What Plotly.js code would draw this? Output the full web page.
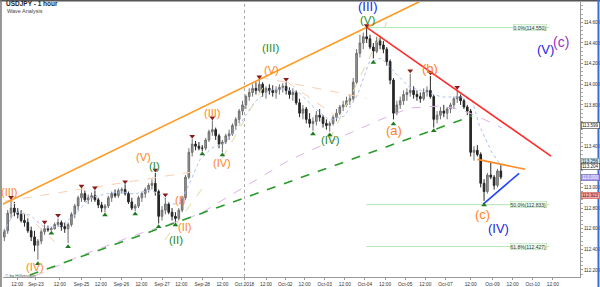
<!DOCTYPE html>
<html><head><meta charset="utf-8">
<script src="https://cdn.plot.ly/plotly-3.0.1.min.js"></script>
<style>html,body{margin:0;padding:0;background:#fff}#chart{width:600px;height:287px}</style>
</head><body><div id="chart"></div>
<script>
// hourly-time index (hours from Sep-25 00:00, weekend-compressed), 2-hour candles
const candleT = [-46,-44,-42,-40,-38,-36,-34,-32,-30,-28,-26,-24,-22,-20,-18,-16,-14,-12,-10,-8,-6,-4,-2,0,2,4,6,8,10,12,14,16,18,20,22,24,26,28,30,32,34,36,38,40,42,44,46,48,50,52,54,56,58,60,62,64,66,68,70,72,74,76,78,80,82,84,86,88,90,92,94,96,98,100,102,104,106,108,110,112,114,116,118,120,122,124,126,128,130,132,134,136,138,140,142,144,146,148,150,152,154,156,158,160,162,164,166,168,170,172,174,176,178,180,182,184,186,188,190,192,194,196,198,200,202,204,206,208,210,212,214,216,218,220,222,224,226,228,230,232,234,236,238,240,242,244,246,248,250];
const openP = [112.52,112.58,112.75,112.80,112.76,112.74,112.68,112.66,112.58,112.52,112.44,112.48,112.57,112.60,112.59,112.60,112.64,112.66,112.62,112.60,112.64,112.74,112.82,112.90,112.94,112.88,112.90,112.92,112.88,112.83,112.80,112.82,112.90,112.94,112.92,112.97,112.98,112.94,112.86,112.80,112.82,112.90,112.94,112.98,113.02,113.04,112.96,112.72,112.78,112.84,112.76,112.72,112.70,112.78,112.90,113.10,113.34,113.42,113.40,113.38,113.38,113.46,113.54,113.56,113.50,113.42,113.44,113.50,113.52,113.60,113.66,113.74,113.80,113.88,113.92,113.96,113.94,114.00,113.92,113.96,113.94,113.92,113.95,113.97,113.98,113.94,113.90,113.92,113.82,113.72,113.76,113.66,113.62,113.64,113.70,113.68,113.62,113.60,113.62,113.68,113.72,113.78,113.80,113.84,113.86,114.02,114.30,114.40,114.46,114.44,114.36,114.32,114.42,114.38,114.34,114.22,114.04,113.72,113.80,113.84,113.90,113.92,113.94,113.90,113.88,113.86,113.92,113.94,113.88,113.66,113.70,113.74,113.72,113.76,113.80,113.86,113.88,113.84,113.78,113.74,113.34,113.36,113.32,113.04,112.96,113.12,113.10,113.02,113.16];
const highP = [112.60,112.78,112.88,112.86,112.80,112.78,112.74,112.70,112.62,112.58,112.50,112.60,112.64,112.63,112.62,112.66,112.70,112.68,112.66,112.66,112.76,112.84,112.92,112.99,112.97,112.93,112.95,112.97,112.90,112.86,112.84,112.92,112.96,112.98,112.99,113.00,113.03,112.96,112.90,112.84,112.92,112.96,113.00,113.04,113.08,113.14,112.98,112.82,112.90,112.86,112.80,112.76,112.80,112.92,113.12,113.38,113.47,113.45,113.44,113.41,113.48,113.56,113.65,113.58,113.52,113.46,113.52,113.56,113.62,113.68,113.76,113.84,113.90,113.96,114.00,114.02,114.05,114.02,113.98,114.00,113.99,113.98,114.00,114.01,114.02,113.97,113.96,113.94,113.86,113.80,113.78,113.72,113.68,113.74,113.76,113.70,113.66,113.64,113.70,113.76,113.80,113.84,113.88,113.90,114.06,114.34,114.48,114.50,114.55,114.48,114.40,114.46,114.46,114.42,114.36,114.24,114.06,113.84,113.88,113.94,113.96,114.10,113.98,113.94,113.92,113.96,113.98,114.08,113.90,113.74,113.78,113.80,113.78,113.82,113.88,113.94,113.90,113.86,113.80,113.76,113.40,113.41,113.34,113.08,113.14,113.25,113.12,113.18,113.22];
const lowP = [112.48,112.55,112.70,112.72,112.70,112.66,112.62,112.56,112.48,112.38,112.30,112.45,112.54,112.57,112.58,112.59,112.62,112.58,112.56,112.46,112.62,112.70,112.78,112.86,112.86,112.84,112.86,112.86,112.80,112.76,112.76,112.80,112.86,112.90,112.90,112.94,112.92,112.84,112.78,112.77,112.80,112.86,112.90,112.95,112.98,112.92,112.65,112.68,112.74,112.74,112.68,112.66,112.68,112.76,112.88,113.08,113.30,113.36,113.36,113.35,113.36,113.44,113.50,113.46,113.38,113.34,113.42,113.46,113.50,113.56,113.62,113.70,113.76,113.84,113.88,113.90,113.92,113.88,113.86,113.90,113.88,113.86,113.90,113.92,113.90,113.86,113.84,113.80,113.68,113.66,113.62,113.58,113.55,113.60,113.64,113.58,113.56,113.54,113.60,113.64,113.70,113.74,113.78,113.80,113.84,114.00,114.26,114.34,114.40,114.34,114.25,114.30,114.34,114.30,114.18,114.00,113.66,113.70,113.76,113.80,113.84,113.88,113.86,113.84,113.82,113.84,113.88,113.86,113.58,113.62,113.66,113.68,113.66,113.72,113.76,113.82,113.80,113.76,113.70,113.30,113.26,113.30,113.00,112.87,112.94,113.08,112.98,113.00,113.08];
const closeP = [112.58,112.75,112.80,112.76,112.74,112.68,112.66,112.58,112.52,112.44,112.48,112.57,112.60,112.59,112.60,112.64,112.66,112.62,112.60,112.64,112.74,112.82,112.90,112.94,112.88,112.90,112.92,112.88,112.83,112.80,112.82,112.90,112.94,112.92,112.97,112.98,112.94,112.86,112.80,112.82,112.90,112.94,112.98,113.02,113.04,112.96,112.72,112.78,112.84,112.76,112.72,112.70,112.78,112.90,113.10,113.34,113.42,113.40,113.38,113.38,113.46,113.54,113.56,113.50,113.42,113.44,113.50,113.52,113.60,113.66,113.74,113.80,113.88,113.92,113.96,113.94,114.00,113.92,113.96,113.94,113.92,113.95,113.97,113.98,113.94,113.90,113.92,113.82,113.72,113.76,113.66,113.62,113.64,113.70,113.68,113.62,113.60,113.62,113.68,113.72,113.78,113.80,113.84,113.86,114.02,114.30,114.40,114.46,114.44,114.36,114.32,114.42,114.38,114.34,114.22,114.04,113.72,113.80,113.84,113.90,113.92,113.94,113.90,113.88,113.86,113.92,113.94,113.88,113.66,113.70,113.74,113.72,113.76,113.80,113.86,113.88,113.84,113.78,113.74,113.34,113.36,113.32,113.04,112.96,113.12,113.10,113.02,113.16,113.10];

// fractal markers
const topT = [-42,-22,-14,0,8,26,44,50,66,78,106,122,170,196,208,224];
const topP = [112.905,112.666,112.73,113.014,112.998,113.056,113.169,112.93,113.497,113.676,114.073,114.048,114.57,114.131,114.112,113.97];
const botT = [-26,-18,-8,14,32,46,56,72,84,138,148,174,186,210,240];
const botP = [112.26,112.555,112.426,112.733,112.742,112.62,112.636,113.324,113.314,113.518,113.508,114.21,113.615,113.55,112.83];

// moving averages
const fastMaT = [-46.8,-39.7,-30.8,-21.8,-12.9,-4,4.9,13.9,22.8,31.7,40.7,46.6,52.6,58.5,64.5,70.4,77.6,85.3,94.2,103.2,112.1,121,129.9,138.9,147.8,156.7,164.5,171.6,178.8,185.3,195.4,215.1,227,232.9,237.1,241.3,244.8,250.8];
const fastMaP = [112.567,112.762,112.733,112.607,112.626,112.733,112.898,112.936,112.956,112.936,112.975,112.936,112.84,112.84,113.043,113.266,113.382,113.43,113.605,113.828,113.944,113.954,113.915,113.77,113.652,113.691,113.895,114.215,114.254,114.138,113.973,113.876,113.876,113.847,113.604,113.46,113.334,113.198];
const slowMaT = [-27.8,-1,30.5,70.4,96,124,147.8,177.6,195.4,213.3,225.2,237.1,250.8];
const slowMaP = [112.142,112.335,112.529,112.742,112.994,113.266,113.44,113.653,113.769,113.789,113.76,113.682,113.576];

// trend lines [t0,t1],[p0,p1]
const channelUpT = [-48.6,201.4], channelUpP = [112.823,114.80];
const supportT = [-30.8,232.9], supportP = [112.151,113.692];
const resistT = [169.8,279.9], resistP = [114.554,113.304];
const triTopT = [236.1,264.5], triTopP = [113.272,113.176];
const triBotT = [239.5,260.9], triBotP = [112.839,113.137];
const peachT = [-45.6,65.6,null,-42.7,-15.9,null,106.1,169.8,null,122.8,150.8];
const peachP = [112.868,113.149,null,112.888,112.471,null,114.07,113.866,null,114.021,113.702];
const tanT = [84.1,109.1,null,147.8,182,null,49.6,73.5];
const tanP = [113.285,113.993,null,113.46,114.6,null,112.49,113.024];

// Fibonacci levels
const fibLabels = ['0.0%(114.550)','50.0%(112.833)','61.8%(112.427)'];
const fibLevels = [114.550,112.833,112.427];
const fibStartT = 169.8, fibEndT = 278.7;

// wave labels
const waveText = ['(III)','(IV)','(V)','(I)','(II)','(III)','(IV)','(V)','(a)','(b)','(c)','(I)','(II)','(III)','(IV)','(V)','(III)','(V)','(IV)','(c)'];
const waveT = [-42.7,-27.8,36.7,58.5,61.5,78.3,83.9,113.1,186.5,207.7,239,43.6,56.5,112.5,148.4,170.6,170.6,276.4,248.6,285.7];
const waveP = [112.958,112.225,113.298,112.878,112.619,113.724,113.24,114.138,113.556,114.154,112.733,113.208,112.49,114.354,113.46,114.622,114.751,114.332,112.604,114.412];
const waveDegree = ['o','o','o','o','o','o','o','o','o2','o2','o2','g','g','g','g','g','b','b','b','p'];

// x-axis ticks
const tickT = [-38.3,-27.2,-12.9,0,11.5,23.8,35.7,48,59.5,72,84,97.2,110,121.5,133,145,157,169,181,193,205,217,232,245,257,269,281];
const tickText = ['12:00','Sep-23','12:00','Sep-25','12:00','Sep-26','12:00','Sep-27','12:00','Sep-28','12:00','Oct 2018','12:00','Oct-02','12:00','Oct-03','12:00','Oct-04','12:00','Oct-05','12:00','Oct-07','12:00','Oct-09','12:00','Oct-10','12:00'];
// 113.200 and 113.600 are hidden behind the price boxes in the reference
const priceTicks = [112.2,112.4,112.6,112.8,113.0,113.4,113.8,114.0,114.2,114.4,114.6];

// right-axis price boxes
const boxText = ['113.599','113.256','113.204','113.093','112.923'];
const boxPrice = [113.60,113.256,113.204,113.093,112.923];
const boxStyle = [['#ffffff','#333','#222'],['#cfe6f2','#69a','#123'],['#ffffff','#333','#222'],['#a99ce8','#66b','#fff'],['#f4a9a9','#c55','#611']];

const FONT = 'Liberation Sans, Arial, sans-serif';
const degStyle = {o:['#ff8420',11], o2:['#ff8420',13], g:['#1f8c1f',11.5], b:['#2424e6',13], p:['#9b2fc4',14]};

function seg(t, p, color, width, dash){
  return {type:'scatter', mode:'lines', x:t, y:p, line:{color:color, width:width, dash:dash||'solid'}, hoverinfo:'skip', showlegend:false, connectgaps:false};
}

const traces = [
  seg(slowMaT, slowMaP, '#d9b3e6', 1, 'dash'),
  seg(fastMaT, fastMaP, '#a9c2f2', 1, 'dot'),
  seg(peachT, peachP, '#f9cfae', 1, 'dash'),
  seg(tanT, tanP, '#e3d7a0', 1, 'dash')
];
fibLevels.forEach(lv => traces.push(seg([fibStartT, fibEndT], [lv, lv], '#b4e6b4', 1)));
traces.push({
  type:'candlestick', x:candleT, open:openP, high:highP, low:lowP, close:closeP,
  increasing:{line:{color:'#6e6e6e', width:1}, fillcolor:'#9a9a9a'},
  decreasing:{line:{color:'#262626', width:1}, fillcolor:'#262626'},
  whiskerwidth:0, hoverinfo:'skip', showlegend:false
});
traces.push(seg(channelUpT, channelUpP, '#ff9a24', 1.6));
traces.push(seg(supportT, supportP, '#2a9a2a', 1.6, 'dash'));
traces.push(seg(resistT, resistP, '#ff2a2a', 1.6));
traces.push(seg(triTopT, triTopP, '#ff8a24', 1.6));
traces.push(seg(triBotT, triBotP, '#2244ff', 1.6));
traces.push({type:'scatter', mode:'markers', x:topT, y:topP, marker:{symbol:'triangle-down', size:5, color:'#8b1a1a'}, hoverinfo:'skip', showlegend:false});
traces.push({type:'scatter', mode:'markers', x:botT, y:botP, marker:{symbol:'triangle-up', size:5, color:'#1f7a1f'}, hoverinfo:'skip', showlegend:false});

const annotations = [];
waveText.forEach((txt, i) => {
  const st = degStyle[waveDegree[i]];
  annotations.push({xref:'x', yref:'y', x:waveT[i], y:waveP[i], text:txt, showarrow:false,
    font:{family:FONT, size:st[1], color:st[0]}, xanchor:'center', yanchor:'middle'});
});
fibLabels.forEach((txt, i) => annotations.push({xref:'x', yref:'y', x:fibEndT - 1.2, y:fibLevels[i], text:txt, showarrow:false,
  font:{family:FONT, size:5, color:'#333'}, xanchor:'right', yanchor:'middle', bgcolor:'#eefbee', bordercolor:'#a6dca6', borderwidth:0.5, borderpad:0}));
boxText.forEach((txt, i) => annotations.push({xref:'paper', yref:'y', x:1, xshift:1, y:boxPrice[i], text:txt, showarrow:false,
  font:{family:FONT, size:4.6, color:boxStyle[i][2]}, xanchor:'left', yanchor:'middle', bgcolor:boxStyle[i][0], bordercolor:boxStyle[i][1], borderwidth:0.6, borderpad:0.3}));
annotations.push({xref:'paper', yref:'paper', x:0.002, y:0.993, text:'<b>USDJPY - 1 hour</b>', showarrow:false, font:{family:FONT, size:6.5, color:'#222'}, xanchor:'left', yanchor:'middle'});
annotations.push({xref:'paper', yref:'paper', x:0.003, y:0.966, text:'Wave Analysis', showarrow:false, font:{family:FONT, size:5.5, color:'#444'}, xanchor:'left', yanchor:'middle'});
annotations.push({xref:'paper', yref:'paper', x:0.0, y:0.004, text:'© by Hillvestger', showarrow:false, font:{family:FONT, size:4.4, color:'#555'}, xanchor:'left', yanchor:'middle'});

const layout = {
  width:600, height:287, margin:{l:3, r:20, t:2, b:10, pad:0},
  paper_bgcolor:'#fff', plot_bgcolor:'#fff', showlegend:false,
  font:{family:FONT, size:5, color:'#333'},
  xaxis:{range:[-46.8, 297.2], tickmode:'array', tickvals:tickT, ticktext:tickText, tickfont:{size:4.8, color:'#333'},
    ticks:'outside', ticklen:2, tickcolor:'#999', showline:true, linecolor:'#999', linewidth:1, showgrid:false, zeroline:false,
    rangeslider:{visible:false}, fixedrange:true, automargin:false},
  yaxis:{range:[112.132, 114.797], side:'right', tickmode:'array', tickvals:priceTicks, tickformat:'.3f', tickfont:{size:4.6, color:'#333'},
    ticks:'outside', ticklen:2, tickcolor:'#999', showline:true, linecolor:'#999', linewidth:1, showgrid:false, zeroline:false,
    minor:{ticks:'outside', ticklen:1.5, tickcolor:'#aaa', dtick:0.04}, fixedrange:true, automargin:false},
  shapes:[
    {type:'line', xref:'x', yref:'paper', x0:tickT[11], x1:tickT[11], y0:0, y1:1, line:{color:'#aaa', width:1, dash:'dot'}},
    {type:'line', xref:'paper', yref:'paper', x0:-0.01, x1:1.04, y0:1.005, y1:1.005, line:{color:'#555', width:1.5}},
    {type:'line', xref:'paper', yref:'paper', x0:-0.0035, x1:-0.0035, y0:-0.04, y1:1.01, line:{color:'#777', width:1.5}},
    {type:'line', xref:'paper', yref:'paper', x0:1.032, x1:1.032, y0:-0.04, y1:1.01, line:{color:'#3a6fd0', width:2}}
  ],
  annotations:annotations
};
Plotly.newPlot('chart', traces, layout, {staticPlot:true, displayModeBar:false});
</script></body></html>
